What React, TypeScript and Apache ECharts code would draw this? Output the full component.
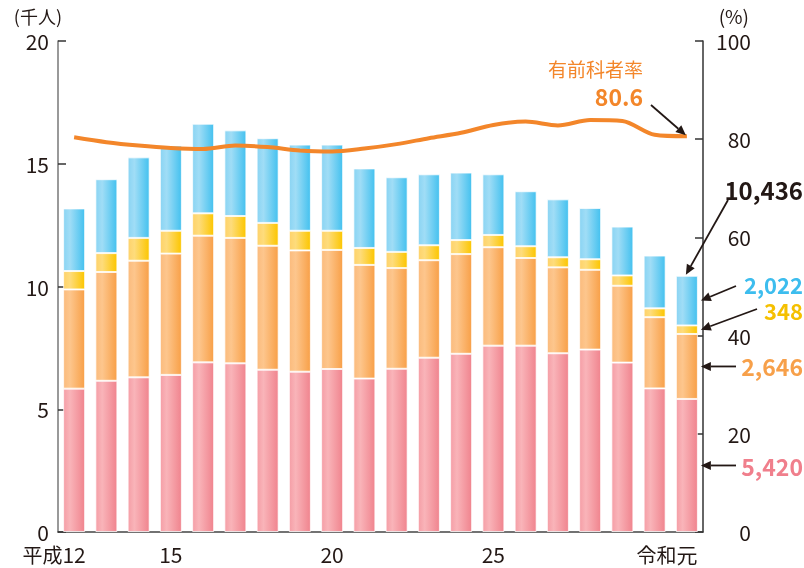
import React, { useEffect, useRef } from "react";
import * as echarts from "echarts";

const CATEGORIES = ["平成12", "13", "14", "15", "16", "17", "18", "19", "20", "21", "22", "23", "24", "25", "26", "27", "28", "29", "30", "令和元"];
const PINK = [5.84, 6.16, 6.3, 6.4, 6.91, 6.87, 6.61, 6.53, 6.64, 6.25, 6.65, 7.1, 7.26, 7.59, 7.59, 7.28, 7.43, 6.9, 5.85, 5.42];
const ORANGE = [4.04, 4.43, 4.75, 4.94, 5.16, 5.11, 5.05, 4.94, 4.85, 4.63, 4.1, 3.97, 4.06, 4.01, 3.57, 3.5, 3.25, 3.13, 2.9, 2.646];
const YELLOW = [0.75, 0.77, 0.93, 0.93, 0.91, 0.89, 0.93, 0.8, 0.78, 0.69, 0.66, 0.61, 0.57, 0.5, 0.48, 0.41, 0.43, 0.42, 0.36, 0.348];
const BLUE = [2.55, 3.01, 3.28, 3.47, 3.65, 3.49, 3.45, 3.51, 3.51, 3.24, 3.04, 2.89, 2.75, 2.47, 2.24, 2.36, 2.09, 1.99, 2.15, 2.022];
const RATE = [80.4, 79.4, 78.7, 78.2, 78.0, 78.7, 78.4, 77.7, 77.5, 78.1, 79.0, 80.2, 81.3, 82.9, 83.6, 82.8, 83.9, 83.7, 80.9, 80.6];
const SHOWN_LABELS = [0, 3, 8, 13, 19];
const PREFIXES = ["平成", "令和"];

const LAST_LABELS = { total: "10,436", blue: "2,022", yellow: "348", orange: "2,646", pink: "5,420", rate: "80.6" };

const FONT = "'Noto Sans CJK JP', 'Noto Sans', sans-serif";
const TEXT = "#231815";
const BAR_W = 22;

const grad = (a: string, b: string, c: string) =>
  new echarts.graphic.LinearGradient(0, 0, 1, 0, [
    { offset: 0, color: a },
    { offset: 0.3, color: b },
    { offset: 1, color: c },
  ]);

function arrow(x1: number, y1: number, x2: number, y2: number) {
  const dx = x2 - x1;
  const dy = y2 - y1;
  const L = Math.hypot(dx, dy);
  const ux = dx / L;
  const uy = dy / L;
  const hl = 10;
  const hw = 4.5;
  const bx = x2 - ux * hl;
  const by = y2 - uy * hl;
  return [
    { type: "line", shape: { x1, y1, x2: bx, y2: by }, style: { stroke: TEXT, lineWidth: 1.8 }, z: 100 },
    {
      type: "polygon",
      shape: { points: [[x2, y2], [bx - uy * hw, by + ux * hw], [bx + uy * hw, by - ux * hw]] },
      style: { fill: TEXT },
      z: 100,
    },
  ];
}

function label(text: string, x: number, y: number, fill: string, size: number, bold: boolean) {
  return {
    type: "text",
    x,
    y,
    z: 100,
    style: {
      text,
      fill,
      fontSize: size,
      lineHeight: Math.round(size * 0.8),
      fontWeight: bold ? "bold" : "normal",
      fontFamily: FONT,
      textAlign: "right",
      textVerticalAlign: "middle",
    },
  };
}

export default function App() {
  const ref = useRef<HTMLDivElement>(null);
  useEffect(() => {
    if (!ref.current) return;
    const chart = echarts.init(ref.current, null, { renderer: "svg" });
    const barStyle = (c: any) => ({ color: c, borderColor: "rgba(255,255,255,0.75)", borderWidth: 1 });
    const option: any = {
      animation: false,
      textStyle: { fontFamily: FONT },
      grid: { left: 58, right: 101, top: 41, bottom: 36, containLabel: false, outerBoundsMode: "none" },
      xAxis: {
        type: "category",
        data: CATEGORIES,
        axisLine: { lineStyle: { color: "#444", width: 1.5 } },
        axisTick: { show: false },
        axisLabel: {
          interval: (i: number) => SHOWN_LABELS.includes(i),
          color: TEXT,
          fontSize: 21,
          lineHeight: 18,
          margin: 13,
          formatter: (v: string) => {
            const p = PREFIXES.find((q) => v.startsWith(q));
            if (p) return `{p|${p}}${v.slice(p.length)}{s| }`;
            return v;
          },
          rich: {
            p: { fontSize: 20, lineHeight: 18, color: TEXT, fontFamily: FONT },
            s: { width: 40, fontSize: 20, lineHeight: 18 },
          },
        },
      },
      yAxis: [
        {
          type: "value",
          min: 0,
          max: 20,
          interval: 5,
          splitLine: { show: false },
          axisLine: { show: true, lineStyle: { color: "#777", width: 1.5 } },
          axisTick: { show: true, inside: true, length: 8, lineStyle: { color: "#333", width: 1.5 } },
          axisLabel: { color: TEXT, fontSize: 21, lineHeight: 16, margin: 9 },
        },
        {
          type: "value",
          min: 0,
          max: 100,
          interval: 20,
          position: "right",
          splitLine: { show: false },
          axisLine: { show: true, lineStyle: { color: "#333", width: 1.5 } },
          axisTick: { show: true, inside: true, length: 8, lineStyle: { color: "#333", width: 1.5 } },
          axisLabel: { color: TEXT, fontSize: 21, lineHeight: 16, margin: 48, align: "right" },
        },
      ],
      series: [
        { name: "pink", type: "bar", stack: "t", barWidth: BAR_W, data: PINK, itemStyle: barStyle(grad("#f59ea6", "#f9b4b9", "#f0848e")) },
        { name: "orange", type: "bar", stack: "t", barWidth: BAR_W, data: ORANGE, itemStyle: barStyle(grad("#fbbb7d", "#fdc68d", "#f8a048")) },
        { name: "yellow", type: "bar", stack: "t", barWidth: BAR_W, data: YELLOW, itemStyle: barStyle(grad("#fed26a", "#fedc7c", "#fcc600")) },
        { name: "blue", type: "bar", stack: "t", barWidth: BAR_W, data: BLUE, itemStyle: barStyle(grad("#8ad4f3", "#a0ddf6", "#44c1ef")) },
        {
          name: "有前科者率",
          type: "line",
          yAxisIndex: 1,
          data: RATE,
          smooth: 0.3,
          symbol: "none",
          z: 5,
          lineStyle: { color: "#f3862a", width: 4 },
        },
      ],
    };
    chart.setOption(option);

    const i = CATEGORIES.length - 1;
    const p0 = PINK[i];
    const o0 = p0 + ORANGE[i];
    const y0 = o0 + YELLOW[i];
    const t0 = y0 + BLUE[i];
    const pt = (v: number) => chart.convertToPixel({ xAxisIndex: 0, yAxisIndex: 0 }, [i, v]) as number[];
    const ratePt = chart.convertToPixel({ xAxisIndex: 0, yAxisIndex: 1 }, [i, RATE[i]]) as number[];
    const cx = pt(0)[0];
    const rx = cx + BAR_W / 2 + 3;
    const topY = pt(t0)[1];
    const blueY = pt((y0 + t0) / 2)[1];
    const yelY = pt((o0 + y0) / 2)[1];
    const orY = pt((p0 + o0) / 2)[1];
    const piY = pt(p0 / 2)[1];

    const graphic: any[] = [
      label("(千人)", 62, 16, TEXT, 18, false),
      label("(%)", 749, 15, TEXT, 19, false),
      label("有前科者率", 643, 68, "#f3862a", 19, false),
      label(LAST_LABELS.rate, 643, 96, "#f3862a", 23, true),
      label(LAST_LABELS.total, 803, 189, TEXT, 24, true),
      label(LAST_LABELS.blue, 803, 284, "#3dbdee", 22, true),
      label(LAST_LABELS.yellow, 803, 310, "#f5c000", 22, true),
      label(LAST_LABELS.orange, 803, 366, "#f7a04a", 23, true),
      label(LAST_LABELS.pink, 803, 466, "#f07f8c", 23, true),
      ...arrow(651, 105, ratePt[0] - 1, ratePt[1] - 1),
      ...arrow(728, 200, cx - 1, topY - 1),
      ...arrow(736, 286, rx, blueY),
      ...arrow(757, 309, rx, yelY),
      ...arrow(736, orY, rx, orY),
      ...arrow(736, piY, rx, piY),
    ];
    chart.setOption({ graphic });

    return () => chart.dispose();
  }, []);
  return <div ref={ref} style={{ position: "fixed", left: 0, top: 0, width: 804, height: 568 }} />;
}
